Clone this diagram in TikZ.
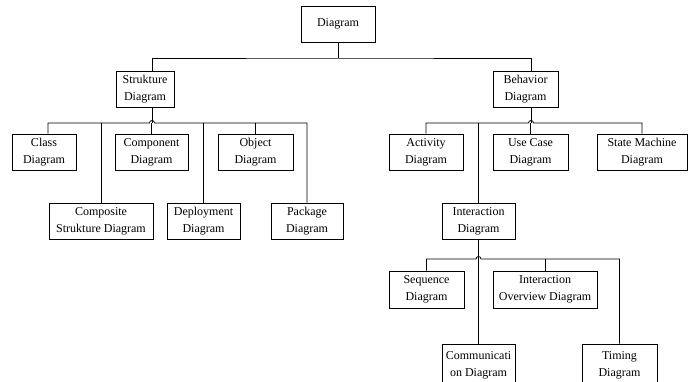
\documentclass[tikz,border=0pt]{standalone}
\usepackage{fontspec}
\setmainfont{Liberation Serif}
\tikzset{
  box/.style={draw, align=center, inner sep=1pt, minimum height=36pt,
    font=\fontsize{12}{17}\selectfont},
  hop/.style={line width=0.8pt}
}
\begin{document}
\begin{tikzpicture}[x=1pt,y=1pt,line width=0.8pt]
      \clip (0,0) rectangle (692,-381);
      \path
        (338,-24) node[box,minimum width=74pt] (diagram){Diagram}
        (145,-89) node[box,minimum width=58pt] (strukture){Strukture\\Diagram}
        (525.5,-89) node[box,minimum width=65pt] (behavior){Behavior\\Diagram}
        (44,-152) node[box,minimum width=64pt] (class){Class\\Diagram}
        (151.5,-152) node[box,minimum width=73pt] (component){Component\\Diagram}
        (255.5,-152) node[box,minimum width=75pt] (object){Object\\Diagram}
        (101,-221) node[box,minimum width=104pt] (composite){Composite\\Strukture Diagram}
        (203.5,-221) node[box,minimum width=73pt] (deployment){Deployment\\Diagram}
        (307,-221) node[box,minimum width=72pt] (package){Package\\Diagram}
        (426,-152) node[box,minimum width=74pt] (activity){Activity\\Diagram}
        (530.5,-152) node[box,minimum width=75pt] (usecase){Use Case\\Diagram}
        (642,-152) node[box,minimum width=90pt] (statemachine){State Machine\\Diagram}
        (478.5,-221) node[box,minimum width=73pt] (interaction){Interaction\\Diagram}
        (426.5,-289.5) node[box,minimum width=75pt,minimum height=37pt] (sequence){Sequence\\Diagram}
        (545,-289.5) node[box,minimum width=104pt,minimum height=37pt] (overview){Interaction\\Overview Diagram}
        (478.5,-364) node[box,minimum width=73pt,minimum height=40pt,text depth=0pt] (communication){Communicati\\on Diagram}
        (619.5,-364) node[box,minimum width=75pt,minimum height=40pt,text depth=0pt] (timing){Timing\\Diagram};
      \coordinate (j0) at (338,-58);
      \coordinate (j1) at (152,-123);
      \coordinate (j2) at (531,-123);
      \coordinate (j3) at (478.5,-259);
      \begin{scope}[-]
        \draw (diagram.south) -- (j0);
        \draw ([xshift=7pt]strukture.north) |- (j0) -| ([xshift=5.5pt]behavior.north);
        \draw ([xshift=7pt]strukture.south) -- (j1);
        \draw ([xshift=4pt]class.north) |- ([xshift=-2.5pt]j1)
          arc[start angle=180, end angle=0, radius=2.5pt] -| (package.north);
        \draw (component.north) -- (component.north |- j1);
        \draw (object.north) -- (object.north |- j1);
        \draw (composite.north) -- (composite.north |- j1);
        \draw (deployment.north) -- (deployment.north |- j1);
        \draw ([xshift=5.5pt]behavior.south) -- (j2);
        \draw (activity.north) |- ([xshift=-2.5pt]j2)
          arc[start angle=180, end angle=0, radius=2.5pt] -| (statemachine.north);
        \draw (usecase.north) -- (usecase.north |- j2);
        \draw (interaction.north) -- (interaction.north |- j2);
        \draw (interaction.south) -- (j3);
        \draw (sequence.north) |- ([xshift=-2.5pt]j3)
          arc[start angle=180, end angle=0, radius=2.5pt] -| (timing.north);
        \draw (overview.north) -- (overview.north |- j3);
        \draw (communication.north) -- (communication.north |- j3);
      \end{scope}
    \end{tikzpicture}
\end{document}
